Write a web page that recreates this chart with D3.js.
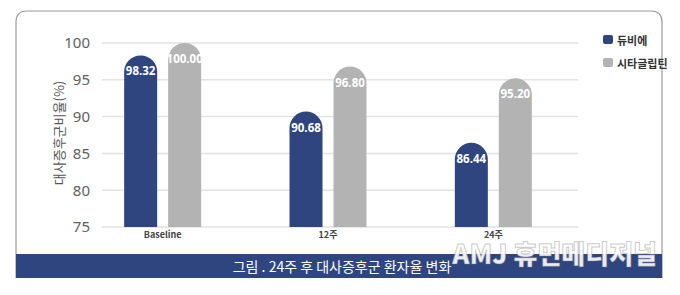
<!DOCTYPE html>
<html>
<head>
<meta charset="utf-8">
<script src="https://cdn.jsdelivr.net/npm/d3@7"></script>
<style>
  body { margin: 0; background: #fff; }
  text { font-family: "Noto Sans CJK KR", "Noto Sans", sans-serif; }
</style>
</head>
<body>
<div id="chart"></div>
<script>
// data
const categories = ["Baseline", "12주", "24주"];
const seriesNames = ["듀비에", "시타글립틴"];
const duvie = [98.32, 90.68, 86.44];
const sita = [100.00, 96.80, 95.20];
const yTicks = [75, 80, 85, 90, 95, 100];
const colors = ["#2f4580", "#b3b3b3"];

const W = 680, H = 295;
const svg = d3.select("#chart").append("svg")
    .attr("width", W)
    .attr("height", H);

// outer frame with rounded top
const fx0 = 16, fx1 = 662, fy0 = 11, fy1 = 278, r = 11;
svg.append("path")
    .attr("d", `M${fx0},${fy1} L${fx0},${fy0 + r} Q${fx0},${fy0} ${fx0 + r},${fy0} L${fx1 - r},${fy0} Q${fx1},${fy0} ${fx1},${fy0 + r} L${fx1},${fy1}`)
    .attr("fill", "none")
    .attr("stroke", "#9a9aa2")
    .attr("stroke-width", 1.2);

// scales
const y = d3.scaleLinear().domain([75, 100]).range([227, 43]);
const x = d3.scaleBand().domain(categories).range([80, 576]);
const inner = d3.scaleBand().domain(seriesNames).range([-38.5, 38.5]).paddingInner(0.25);

// gridlines
svg.append("g")
    .selectAll("line")
    .data(yTicks)
    .join("line")
    .attr("x1", 102)
    .attr("x2", 578)
    .attr("y1", d => y(d))
    .attr("y2", d => y(d))
    .attr("stroke", "#e2e2e2")
    .attr("stroke-width", 1.5);

// y axis labels
const yAxis = svg.append("g")
    .attr("transform", "translate(90,0)")
    .call(d3.axisLeft(y).tickValues(yTicks).tickSize(0).tickPadding(0));
yAxis.select(".domain").remove();
yAxis.selectAll("text")
    .attr("fill", "#606060")
    .attr("font-size", 15)
    .style("font-family", "'Noto Sans', sans-serif");

// y title
svg.append("text")
    .attr("transform", "translate(58,133) rotate(-90)")
    .attr("text-anchor", "middle")
    .attr("dominant-baseline", "central")
    .attr("font-size", 13)
    .attr("fill", "#555")
    .text("대사증후군비율(%)");

// bars
const rows = [];
categories.forEach((c, i) => {
    rows.push({ cat: c, s: seriesNames[0], v: duvie[i], k: 0 });
    rows.push({ cat: c, s: seriesNames[1], v: sita[i], k: 1 });
});

const bw = inner.bandwidth();
function barPath(d) {
    const cx = x(d.cat) + x.bandwidth() / 2 + inner(d.s);
    const top = y(d.v), bot = y(75), rr = bw / 2;
    return `M${cx},${bot} L${cx},${top + rr} A${rr},${rr} 0 0 1 ${cx + bw},${top + rr} L${cx + bw},${bot} Z`;
}

svg.append("g")
    .selectAll("path")
    .data(rows)
    .join("path")
    .attr("d", barPath)
    .attr("fill", d => colors[d.k]);

svg.append("g")
    .selectAll("text")
    .data(rows)
    .join("text")
    .attr("x", d => x(d.cat) + x.bandwidth() / 2 + inner(d.s) + bw / 2)
    .attr("y", d => y(d.v) + 20)
    .attr("text-anchor", "middle")
    .attr("font-size", 11.5)
    .attr("font-weight", "bold")
    .attr("fill", "#fff")
    .style("font-family", "'Open Sans', sans-serif")
    .text(d => d.v.toFixed(2));

// category labels
svg.append("g")
    .selectAll("text")
    .data(categories)
    .join("text")
    .attr("x", d => x(d) + x.bandwidth() / 2)
    .attr("y", 238)
    .attr("text-anchor", "middle")
    .attr("font-size", 9)
    .attr("font-weight", "bold")
    .attr("fill", "#444")
    .text(d => d);

// legend
const legend = svg.append("g")
    .selectAll("g")
    .data(seriesNames)
    .join("g")
    .attr("transform", (d, i) => `translate(603,${35 + i * 23})`);
legend.append("rect")
    .attr("width", 10)
    .attr("height", 9)
    .attr("rx", 2)
    .attr("fill", (d, i) => colors[i]);
legend.append("text")
    .attr("x", 14)
    .attr("y", 5)
    .attr("dominant-baseline", "central")
    .attr("font-size", 11)
    .attr("font-weight", "bold")
    .attr("fill", "#333")
    .text(d => d);

// caption band
svg.append("rect")
    .attr("x", fx0)
    .attr("y", 254)
    .attr("width", fx1 - fx0)
    .attr("height", 24)
    .attr("fill", "#2f4580");
svg.append("text")
    .attr("x", 342)
    .attr("y", 266)
    .attr("text-anchor", "middle")
    .attr("dominant-baseline", "central")
    .attr("font-size", 14)
    .attr("fill", "#fff")
    .text("그림 . 24주 후 대사증후군 환자율 변화");

// watermark
svg.append("text")
    .attr("x", 657)
    .attr("y", 264)
    .attr("text-anchor", "end")
    .attr("font-size", 26)
    .attr("font-weight", 900)
    .attr("fill", "#fff")
    .attr("fill-opacity", 0.92)
    .attr("stroke", "#777")
    .attr("stroke-opacity", 0.4)
    .attr("stroke-width", 1)
    .text("AMJ 휴먼메디저널");
</script>
</body>
</html>
